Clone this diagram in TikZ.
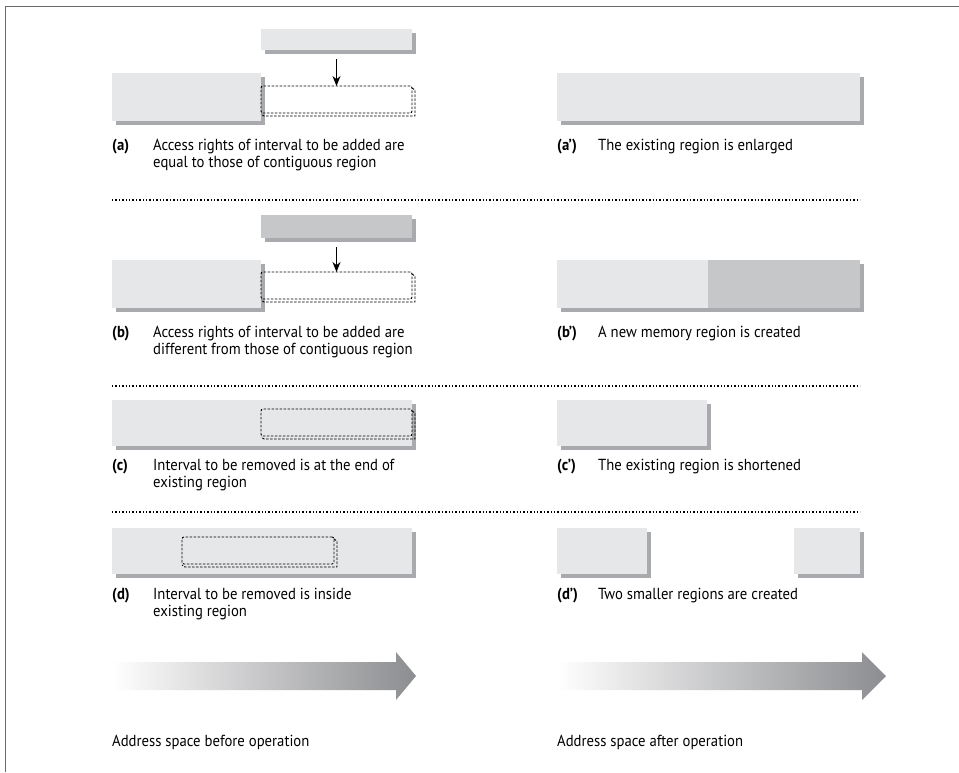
\documentclass[tikz,border=0pt]{standalone}
\usepackage{fontspec}
\setmainfont{PT Sans}[FakeStretch=0.92]
\usetikzlibrary{arrows.meta,shadows}
\definecolor{boxlight}{HTML}{E6E7E8}
\definecolor{boxdark}{HTML}{C6C7C9}
\definecolor{shadowgray}{HTML}{A8AAAD}
\definecolor{framegray}{HTML}{6A6A6A}
\definecolor{arrowgray}{HTML}{8C8D90}
\tikzset{
  region/.style={fill=boxlight, draw=none, anchor=north west, inner sep=0pt, outer sep=0pt,
    general shadow={fill=shadowgray, shadow xshift=4pt, shadow yshift=-4pt}},
  regiondark/.style={region, fill=boxdark},
  plain/.style={fill=boxdark, draw=none, anchor=north west, inner sep=0pt, outer sep=0pt},
  dashbox/.style={draw=black, dash pattern=on 2.5pt off 1.5pt, line width=0.9pt, rounded corners=2pt,
    anchor=north west, inner sep=0pt, outer sep=0pt},
  dashedge/.style={draw=black, dash pattern=on 2.5pt off 1.5pt, line width=0.9pt},
  feed/.style={-{Stealth[length=10pt,width=8pt]}, line width=1.1pt},
  label/.style={anchor=north west, inner sep=0pt, font=\fontsize{16}{17.5}\selectfont},
  sep/.style={line width=1.4pt, dash pattern=on 1.4pt off 2pt},
  space/.style={left color=white, right color=arrowgray, draw=none},
}
\newcommand{\lbl}[2]{\begin{tabular}{@{}p{41pt}@{}l@{}}\textbf{#1} & #2\end{tabular}}
\begin{document}
\begin{tikzpicture}[x=1pt,y=-1pt]
\useasboundingbox (0,0) rectangle (959,772);
\fill[white] (0,0) rectangle (959,772);
\draw[framegray, line width=1.7pt] (5.5,772) -- (5.5,6.5) -- (959,6.5);

% ---------- row a ----------
\node[region, minimum width=151pt, minimum height=21pt] (atop) at (261,29) {};
\node[region, minimum width=149pt, minimum height=48pt] (aleft) at (112,73) {};
\node[dashbox, minimum width=151pt, minimum height=27pt] (adash) at (261,86) {};
\draw[dashedge] ([yshift=-2pt]adash.north east) -- ++(3pt,-2pt) -- ([shift={(3pt,-3pt)}]adash.south east) -- ([shift={(3pt,-3pt)}]adash.south west) -- ([shift={(0pt,-1pt)}]adash.south west);
\draw[feed] ([yshift=-9pt]atop.south) -- (adash.north);
\node[region, minimum width=303pt, minimum height=48pt] (aright) at (557,73) {};
\node[label] (atext) at (112,138) {\lbl{(a)}{Access rights of interval to be added are\\ & equal to those of contiguous region}};
\node[label] (aptext) at (557,138) {\lbl{(a')}{The existing region is enlarged}};
\draw[sep] (112,200) -- (860,200);

% ---------- row b ----------
\node[regiondark, minimum width=151pt, minimum height=23pt] (btop) at (261,215) {};
\node[region, minimum width=149pt, minimum height=48pt] (bleft) at (112,260) {};
\node[dashbox, minimum width=151pt, minimum height=27pt] (bdash) at (261,272) {};
\draw[dashedge] ([yshift=-2pt]bdash.north east) -- ++(3pt,-2pt) -- ([shift={(3pt,-3pt)}]bdash.south east) -- ([shift={(3pt,-3pt)}]bdash.south west) -- ([shift={(0pt,-1pt)}]bdash.south west);
\draw[feed] ([yshift=-9pt]btop.south) -- (bdash.north);
\node[region, minimum width=303pt, minimum height=48pt] (bright) at (557,260) {};
\node[plain, minimum width=152pt, minimum height=48pt] (bnew) at (708,260) {};
\node[label] (btext) at (112,325) {\lbl{(b)}{Access rights of interval to be added are\\ & different from those of contiguous region}};
\node[label] (bptext) at (557,325) {\lbl{(b')}{A new memory region is created}};
\draw[sep] (112,386) -- (860,386);

% ---------- row c ----------
\node[region, minimum width=300pt, minimum height=46pt] (cbox) at (112,400) {};
\node[dashbox, minimum width=151pt, minimum height=27pt] (cdash) at (261,409) {};
\draw[dashedge] ([yshift=-2pt]cdash.north east) -- ++(3pt,-2pt) -- ([shift={(3pt,-3pt)}]cdash.south east) -- ([shift={(3pt,-3pt)}]cdash.south west) -- ([shift={(0pt,-1pt)}]cdash.south west);
\node[region, minimum width=150pt, minimum height=46pt] (cright) at (557,400) {};
\node[label] (ctext) at (112,458) {\lbl{(c)}{Interval to be removed is at the end of\\ & existing region}};
\node[label] (cptext) at (557,458) {\lbl{(c')}{The existing region is shortened}};
\draw[sep] (112,512) -- (860,512);

% ---------- row d ----------
\node[region, minimum width=300pt, minimum height=46pt] (dbox) at (112,528) {};
\node[dashbox, minimum width=152pt, minimum height=27pt] (ddash) at (182,537) {};
\draw[dashedge] ([yshift=-2pt]ddash.north east) -- ++(3pt,-2pt) -- ([shift={(3pt,-3pt)}]ddash.south east) -- ([shift={(3pt,-3pt)}]ddash.south west) -- ([shift={(0pt,-1pt)}]ddash.south west);
\node[region, minimum width=90pt, minimum height=46pt] (dr1) at (557,528) {};
\node[region, minimum width=66pt, minimum height=46pt] (dr2) at (794,528) {};
\node[label] (dtext) at (112,587) {\lbl{(d)}{Interval to be removed is inside\\ & existing region}};
\node[label] (dptext) at (557,587) {\lbl{(d')}{Two smaller regions are created}};

% ---------- address space arrows ----------
\shade[space] (112,662) -- (396,662) -- (396,652) -- (416,676) -- (396,700) -- (396,690) -- (112,690) -- cycle;
\shade[space] (557,662) -- (862,662) -- (862,652) -- (886,676) -- (862,700) -- (862,690) -- (557,690) -- cycle;
\node[label, anchor=base west] (before) at (112,746) {Address space before operation};
\node[label, anchor=base west] (after) at (557,746) {Address space after operation};
\end{tikzpicture}
\end{document}
